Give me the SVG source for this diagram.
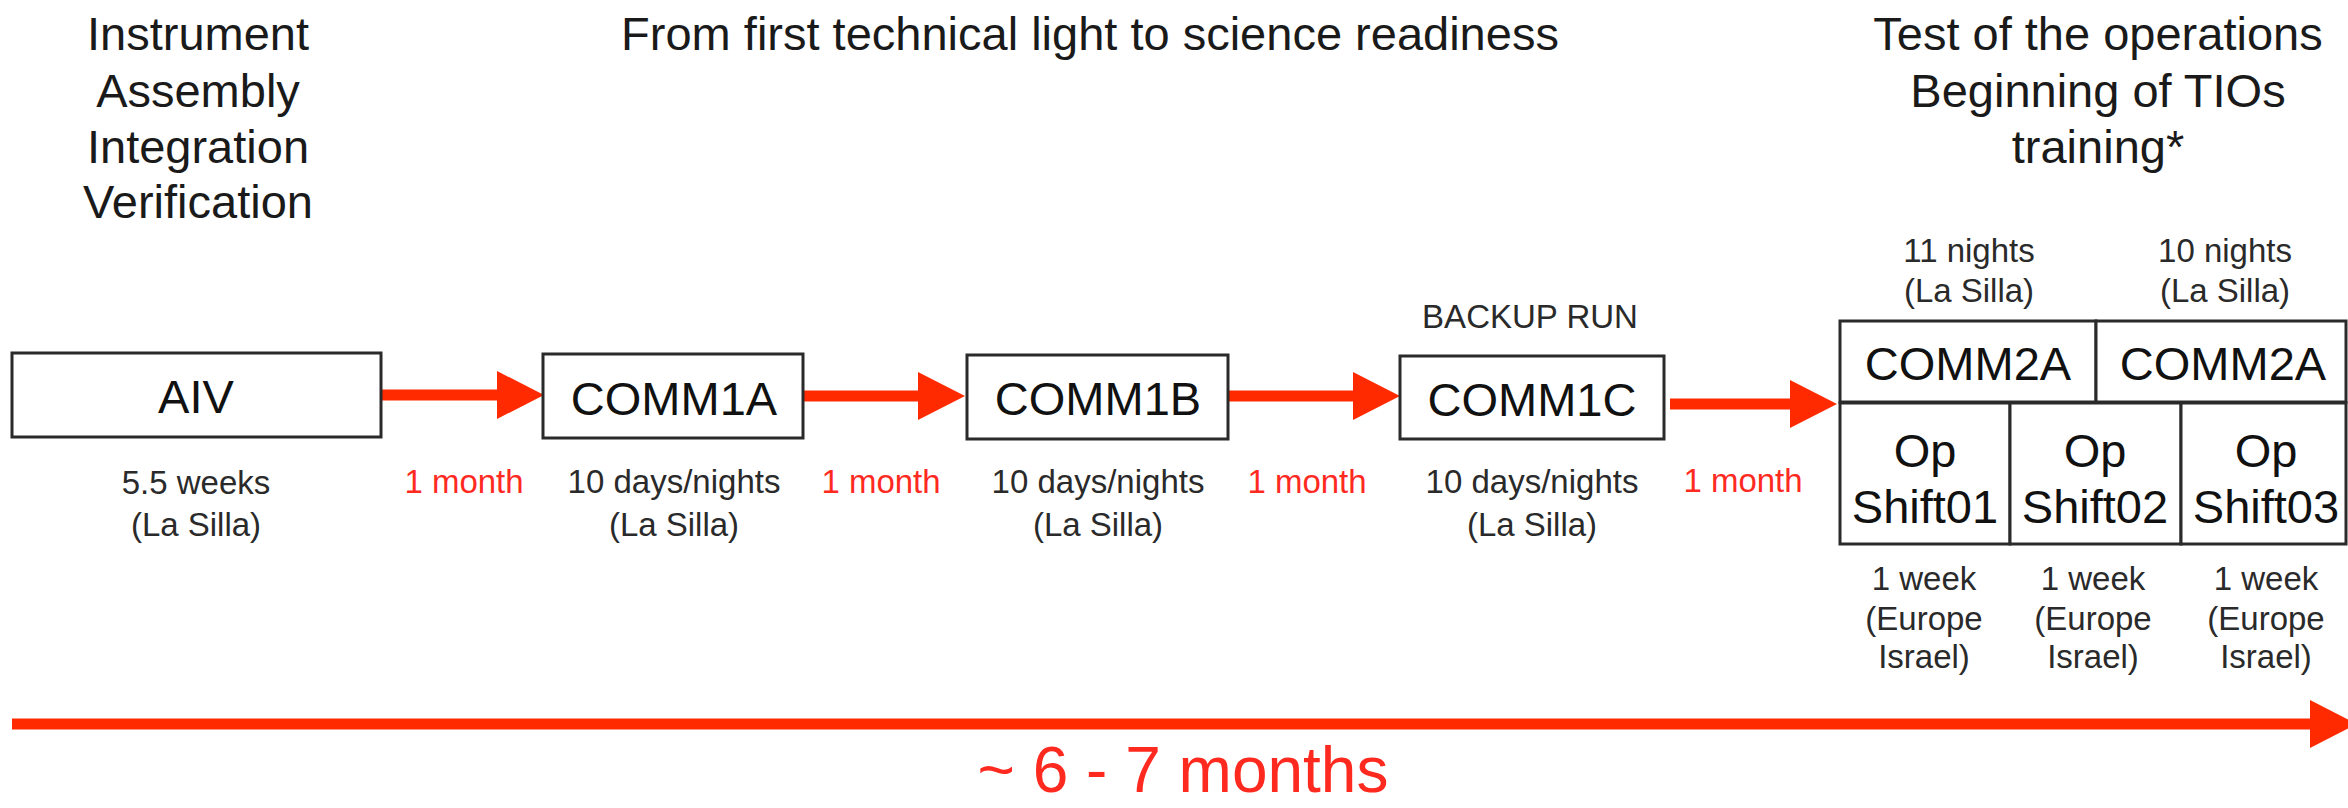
<svg xmlns="http://www.w3.org/2000/svg" width="2348" height="808" viewBox="0 0 2348 808">
<style>
  text { font-family: "Liberation Sans", Arial, sans-serif; text-anchor: middle; }
  .head { font-size: 47px; fill: #1a1a1a; }
  .box { fill: #ffffff; stroke: #2a2a2a; stroke-width: 3; }
  .lbl { font-size: 47px; fill: #111111; }
  .small { font-size: 33px; fill: #2a2a2a; }
  .red { font-size: 33px; fill: #ff2a1f; }
  .big { font-size: 64px; fill: #ff2a1f; }
  .conn { stroke: #ff2a00; stroke-width: 11; fill: none; marker-end: url(#ah); }
</style>
<defs>
  <marker id="ah" markerUnits="userSpaceOnUse" markerWidth="48" markerHeight="48" refX="0" refY="24" orient="auto" viewBox="0 0 48 48">
    <path d="M0,0 L47,24 L0,48 Z" fill="#ff2a00"/>
  </marker>
</defs>
<rect width="2348" height="808" fill="#ffffff"/>

<g id="headings">
  <text class="head" x="198" y="50">Instrument</text>
  <text class="head" x="198" y="107">Assembly</text>
  <text class="head" x="198" y="163">Integration</text>
  <text class="head" x="198" y="218">Verification</text>
  <text class="head" x="1090" y="50">From first technical light to science readiness</text>
  <text class="head" x="2098" y="50">Test of the operations</text>
  <text class="head" x="2098" y="107">Beginning of TIOs</text>
  <text class="head" x="2098" y="163">training*</text>
</g>

<g id="connectors">
  <line class="conn" x1="381" y1="395" x2="497" y2="395"/>
  <line class="conn" x1="803" y1="396" x2="918" y2="396"/>
  <line class="conn" x1="1228" y1="396" x2="1353" y2="396"/>
  <line class="conn" x1="1670" y1="404" x2="1790" y2="404"/>
  <line class="conn" x1="12" y1="724" x2="2310" y2="724" stroke-width="12"/>
</g>

<g id="gap-labels">
  <text class="red" x="464" y="493">1 month</text>
  <text class="red" x="881" y="493">1 month</text>
  <text class="red" x="1307" y="493">1 month</text>
  <text class="red" x="1743" y="492">1 month</text>
  <text class="big" x="1183" y="792">~ 6 - 7 months</text>
</g>

<g id="node-aiv">
  <rect class="box" x="12" y="353" width="369" height="84"/>
  <text class="lbl" x="196" y="413">AIV</text>
  <text class="small" x="196" y="494">5.5 weeks</text>
  <text class="small" x="196" y="536">(La Silla)</text>
</g>

<g id="node-comm1a">
  <rect class="box" x="543" y="354" width="260" height="84"/>
  <text class="lbl" x="674" y="415">COMM1A</text>
  <text class="small" x="674" y="493">10 days/nights</text>
  <text class="small" x="674" y="536">(La Silla)</text>
</g>

<g id="node-comm1b">
  <rect class="box" x="967" y="355" width="261" height="84"/>
  <text class="lbl" x="1098" y="415">COMM1B</text>
  <text class="small" x="1098" y="493">10 days/nights</text>
  <text class="small" x="1098" y="536">(La Silla)</text>
</g>

<g id="node-comm1c">
  <text class="small" x="1530" y="328">BACKUP RUN</text>
  <rect class="box" x="1400" y="356" width="264" height="83"/>
  <text class="lbl" x="1532" y="416">COMM1C</text>
  <text class="small" x="1532" y="493">10 days/nights</text>
  <text class="small" x="1532" y="536">(La Silla)</text>
</g>

<g id="node-comm2a-1">
  <text class="small" x="1969" y="262">11 nights</text>
  <text class="small" x="1969" y="302">(La Silla)</text>
  <rect class="box" x="1840" y="321" width="256" height="81"/>
  <text class="lbl" x="1968" y="380">COMM2A</text>
</g>

<g id="node-comm2a-2">
  <text class="small" x="2225" y="262">10 nights</text>
  <text class="small" x="2225" y="302">(La Silla)</text>
  <rect class="box" x="2096" y="321" width="250" height="81"/>
  <text class="lbl" x="2223" y="380">COMM2A</text>
</g>

<g id="node-opshift01">
  <rect class="box" x="1840" y="403" width="170" height="141" stroke-width="4"/>
  <text class="lbl" x="1925" y="467">Op</text>
  <text class="lbl" x="1925" y="523">Shift01</text>
  <text class="small" x="1924" y="590">1 week</text>
  <text class="small" x="1924" y="630">(Europe</text>
  <text class="small" x="1924" y="668">Israel)</text>
</g>

<g id="node-opshift02">
  <rect class="box" x="2010" y="403" width="171" height="141" stroke-width="4"/>
  <text class="lbl" x="2095" y="467">Op</text>
  <text class="lbl" x="2095" y="523">Shift02</text>
  <text class="small" x="2093" y="590">1 week</text>
  <text class="small" x="2093" y="630">(Europe</text>
  <text class="small" x="2093" y="668">Israel)</text>
</g>

<g id="node-opshift03">
  <rect class="box" x="2181" y="403" width="165" height="141" stroke-width="4"/>
  <text class="lbl" x="2266" y="467">Op</text>
  <text class="lbl" x="2266" y="523">Shift03</text>
  <text class="small" x="2266" y="590">1 week</text>
  <text class="small" x="2266" y="630">(Europe</text>
  <text class="small" x="2266" y="668">Israel)</text>
</g>
</svg>
